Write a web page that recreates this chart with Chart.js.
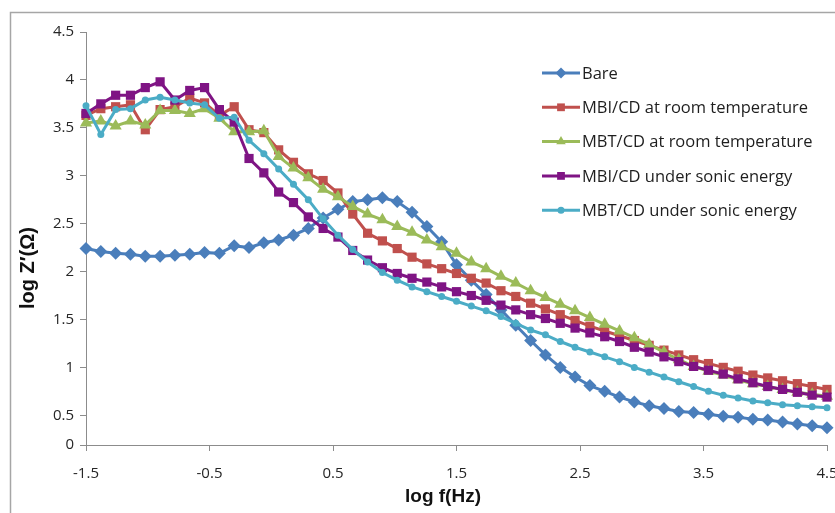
<!DOCTYPE html>
<html>
<head>
<meta charset="utf-8">
<script src="https://cdn.jsdelivr.net/npm/chart.js@4"></script>
<style>
  html, body { margin: 0; padding: 0; background: #fff; overflow: hidden; }
</style>
</head>
<body>
<canvas id="myChart" width="835" height="513"></canvas>
<script>
const ctx = document.getElementById('myChart');

// log f (Hz) for every measured point
const logF = [-1.50, -1.38, -1.26, -1.14, -1.02, -0.90, -0.78, -0.66, -0.54, -0.42,
  -0.30, -0.18, -0.06, 0.06, 0.18, 0.30, 0.42, 0.54, 0.66, 0.78,
  0.90, 1.02, 1.14, 1.26, 1.38, 1.50, 1.62, 1.74, 1.86, 1.98,
  2.10, 2.22, 2.34, 2.46, 2.58, 2.70, 2.82, 2.94, 3.06, 3.18,
  3.30, 3.42, 3.54, 3.66, 3.78, 3.90, 4.02, 4.14, 4.26, 4.38, 4.50];

const bare = [2.24, 2.21, 2.19, 2.18, 2.16, 2.16, 2.17, 2.18, 2.20, 2.19,
  2.27, 2.25, 2.30, 2.33, 2.38, 2.45, 2.56, 2.65, 2.73, 2.75,
  2.77, 2.73, 2.62, 2.47, 2.31, 2.07, 1.91, 1.76, 1.60, 1.44,
  1.28, 1.13, 1.00, 0.90, 0.81, 0.75, 0.69, 0.64, 0.60, 0.57,
  0.54, 0.53, 0.51, 0.49, 0.48, 0.46, 0.45, 0.43, 0.41, 0.39, 0.37];

const mbiRoom = [3.63, 3.70, 3.72, 3.74, 3.48, 3.69, 3.72, 3.81, 3.76, 3.63,
  3.72, 3.48, 3.45, 3.27, 3.14, 3.02, 2.95, 2.82, 2.60, 2.40,
  2.32, 2.24, 2.15, 2.08, 2.03, 1.98, 1.93, 1.88, 1.80, 1.74,
  1.67, 1.61, 1.55, 1.49, 1.43, 1.38, 1.33, 1.28, 1.23, 1.18,
  1.13, 1.08, 1.04, 1.00, 0.96, 0.92, 0.89, 0.86, 0.83, 0.80, 0.77];

const mbtRoom = [3.55, 3.57, 3.52, 3.57, 3.53, 3.68, 3.68, 3.65, 3.70, 3.60,
  3.46, 3.46, 3.47, 3.20, 3.08, 2.98, 2.86, 2.78, 2.68, 2.60,
  2.54, 2.47, 2.41, 2.33, 2.26, 2.19, 2.10, 2.03, 1.95, 1.88,
  1.80, 1.73, 1.66, 1.59, 1.52, 1.45, 1.38, 1.31, 1.24, 1.16,
  1.08, 1.01, 0.96, 0.92, 0.87, 0.83, 0.80, 0.77, 0.74, 0.72, 0.70];

const mbiSonic = [3.65, 3.75, 3.84, 3.84, 3.92, 3.98, 3.79, 3.89, 3.92, 3.69,
  3.56, 3.18, 3.03, 2.83, 2.72, 2.57, 2.45, 2.36, 2.22, 2.12,
  2.04, 1.98, 1.93, 1.89, 1.84, 1.79, 1.75, 1.70, 1.65, 1.60,
  1.55, 1.51, 1.46, 1.41, 1.36, 1.32, 1.27, 1.21, 1.16, 1.11,
  1.06, 1.01, 0.97, 0.93, 0.88, 0.84, 0.80, 0.77, 0.74, 0.71, 0.69];

const mbtSonic = [3.73, 3.43, 3.69, 3.70, 3.79, 3.82, 3.79, 3.76, 3.74, 3.60,
  3.61, 3.37, 3.23, 3.07, 2.91, 2.75, 2.55, 2.38, 2.23, 2.10,
  1.99, 1.91, 1.84, 1.79, 1.74, 1.69, 1.64, 1.59, 1.53, 1.46,
  1.39, 1.34, 1.27, 1.21, 1.16, 1.11, 1.06, 1.00, 0.95, 0.90,
  0.85, 0.80, 0.75, 0.71, 0.68, 0.65, 0.63, 0.61, 0.60, 0.59, 0.58];

const seriesNames = ['Bare', 'MBI/CD at room temperature', 'MBT/CD at room temperature',
  'MBI/CD under sonic energy', 'MBT/CD under sonic energy'];
const seriesValues = [bare, mbiRoom, mbtRoom, mbiSonic, mbtSonic];

const xTickValues = [-1.5, -0.5, 0.5, 1.5, 2.5, 3.5, 4.5];
// the original axis is not linear at the bottom: the "0" mark sits where 0.19 would be
const yTickValues = [0.19, 0.5, 1, 1.5, 2, 2.5, 3, 3.5, 4, 4.5];
const yTickLabels = ['0', '0.5', '1', '1.5', '2', '2.5', '3', '3.5', '4', '4.5'];

const styles = [
  { color: '#4A7EBB', pointStyle: 'rectRot', radius: 6.5 },
  { color: '#C0504D', pointStyle: 'rect', radius: 6.5 },
  { color: '#9BBB59', pointStyle: 'triangle', radius: 7 },
  { color: '#7F1484', pointStyle: 'rect', radius: 6.5 },
  { color: '#4BACC6', pointStyle: 'circle', radius: 3.5 },
];

const axisGray = '#8C8C8C';
const tickFont = { family: "'Open Sans', sans-serif", size: 15 };

const datasets = seriesValues.map((vals, i) => ({
  label: seriesNames[i],
  data: vals.map((v, j) => ({ x: logF[j], y: v })),
  borderColor: styles[i].color,
  backgroundColor: styles[i].color,
  borderWidth: 3,
  pointStyle: styles[i].pointStyle,
  pointRadius: styles[i].radius,
  pointBorderWidth: 0,
  tension: 0,
  clip: false,
  order: seriesNames.length - i,
}));

const framePlugin = {
  id: 'frame',
  beforeDraw(chart) {
    const c = chart.ctx;
    c.save();
    c.fillStyle = '#fff';
    c.fillRect(0, 0, chart.width, chart.height);
    c.strokeStyle = '#A6A6A6';
    c.lineWidth = 1.5;
    c.strokeRect(10.5, 12.5, chart.width + 20, chart.height + 20);
    c.restore();
  },
};

const titlesPlugin = {
  id: 'axisTitles',
  afterDraw(chart) {
    const c = chart.ctx;
    c.save();
    c.fillStyle = '#111';
    c.font = "bold 19px 'Liberation Sans', Arial, sans-serif";
    c.textAlign = 'center';
    c.textBaseline = 'middle';
    c.fillText('log f(Hz)', 443, 497);
    c.font = "bold 20px 'Liberation Sans', Arial, sans-serif";
    c.translate(28, 268);
    c.rotate(-Math.PI / 2);
    c.fillText('log Z\u2032(\u03A9)', 0, 0);
    c.restore();
  },
};

const legendPlugin = {
  id: 'sideLegend',
  afterDraw(chart) {
    const c = chart.ctx;
    c.save();
    c.font = "16.5px 'Open Sans', sans-serif";
    c.textBaseline = 'middle';
    c.textAlign = 'left';
    chart.data.datasets.forEach((ds, i) => {
      const y = 73 + i * 34.3;
      c.strokeStyle = ds.borderColor;
      c.lineWidth = 3;
      c.beginPath();
      c.moveTo(542, y);
      c.lineTo(580, y);
      c.stroke();
      c.fillStyle = ds.backgroundColor;
      Chart.helpers.drawPoint(c, {
        pointStyle: ds.pointStyle,
        radius: Math.min(ds.pointRadius, 5.5),
        borderWidth: 0,
        rotation: 0,
      }, 561, y);
      c.fillStyle = '#1e1e1e';
      c.fillText(ds.label, 582, y + 1);
    });
    c.restore();
  },
};

const config = {
  type: 'line',
  data: { datasets },
  options: {
    responsive: false,
    animation: false,
    devicePixelRatio: 1,
    layout: { padding: { top: 32, right: 8, left: 0, bottom: 0 } },
    plugins: {
      legend: { display: false },
      tooltip: { enabled: false },
    },
    scales: {
      x: {
        type: 'linear',
        min: -1.5,
        max: 4.5,
        afterBuildTicks: (scale) => {
          scale.ticks = xTickValues.map((v) => ({ value: v }));
        },
        afterFit: (scale) => {
          scale.height = 68;
          scale.paddingLeft = 0;
          scale.paddingRight = 0;
        },
        grid: { drawOnChartArea: false, drawTicks: true, tickLength: 6, color: axisGray },
        border: { color: axisGray, width: 1 },
        ticks: {
          font: tickFont,
          color: '#262626',
          padding: 14,
          maxRotation: 0,
          autoSkip: false,
          callback: (v) => String(v),
        },
      },
      y: {
        type: 'linear',
        min: 0.19,
        max: 4.5,
        afterBuildTicks: (scale) => {
          scale.ticks = yTickValues.map((v) => ({ value: v }));
        },
        afterFit: (scale) => {
          scale.width = 86;
          scale.paddingTop = 0;
          scale.paddingBottom = 0;
        },
        grid: { drawOnChartArea: false, drawTicks: true, tickLength: 6, color: axisGray },
        border: { color: axisGray, width: 1 },
        ticks: {
          font: tickFont,
          color: '#262626',
          padding: 6,
          autoSkip: false,
          callback: (v, i) => yTickLabels[i],
        },
      },
    },
  },
  plugins: [framePlugin, titlesPlugin, legendPlugin],
};

new Chart(ctx, config);
</script>
</body>
</html>
